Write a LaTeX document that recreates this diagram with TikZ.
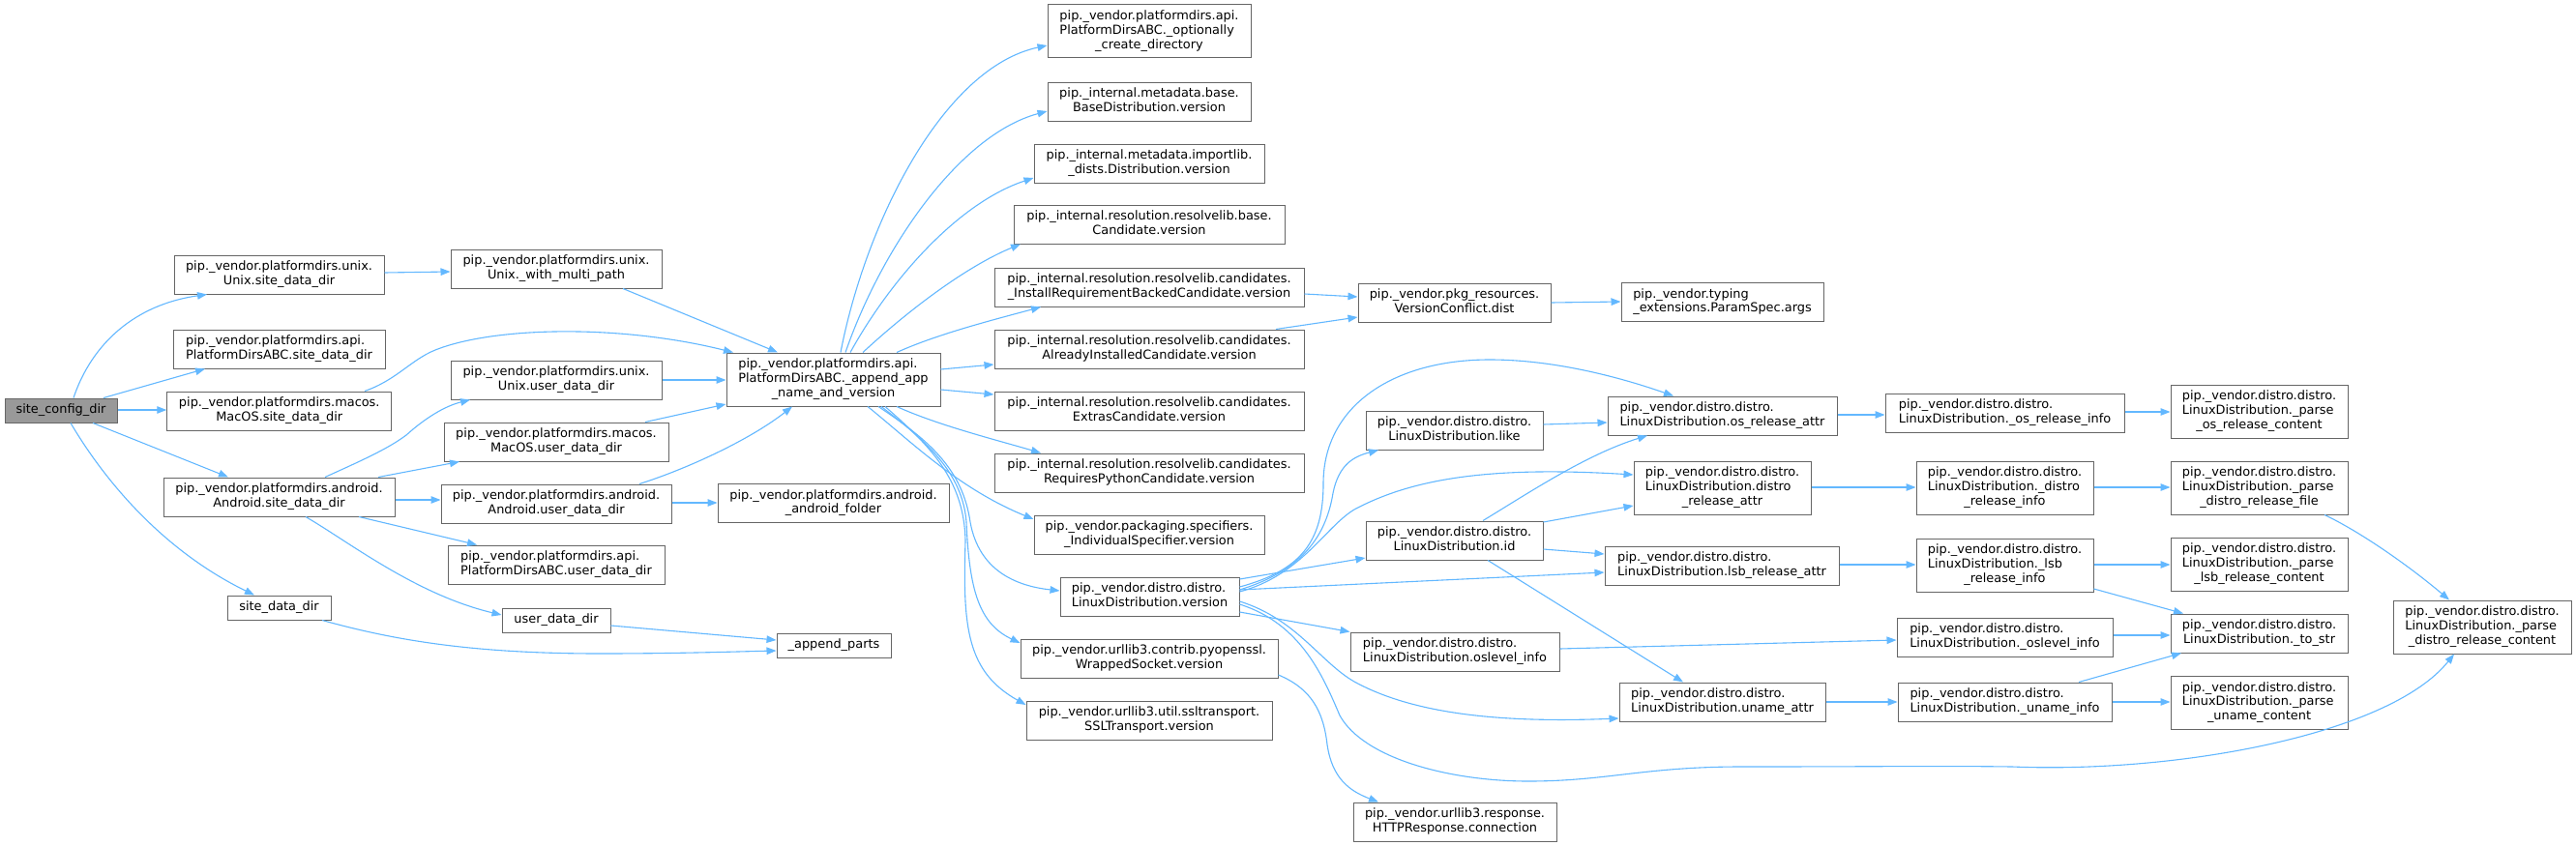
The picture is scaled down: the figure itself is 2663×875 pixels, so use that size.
\documentclass[tikz,border=0pt]{standalone}
\usepackage{fontspec}
\setmainfont{DejaVu Sans}
\usetikzlibrary{arrows.meta}
\definecolor{edgeblue}{HTML}{63B8FF}
\definecolor{boxline}{HTML}{666666}
\definecolor{rootfill}{HTML}{999999}
\newcommand{\LblTwo}[2]{\begin{tabular}{@{}l@{}}#1\\\multicolumn{1}{@{}c@{}}{#2}\end{tabular}}
\newcommand{\LblThree}[3]{\begin{tabular}{@{}l@{}}#1\\#2\\\multicolumn{1}{@{}c@{}}{#3}\end{tabular}}
\newcommand{\PVD}{pip.\_vendor.distro.distro.}
\newcommand{\PLD}{LinuxDistribution.}
\begin{document}
\begin{tikzpicture}[x=1pt,y=-1pt,
  bx/.style={draw=boxline, fill=white, line width=1pt, inner sep=0pt, rectangle, font=\fontsize{12.9}{14.7}\selectfont},
  rootbx/.style={bx, fill=rootfill},
  ed/.style={draw=edgeblue, line width=1.1pt, -{Triangle[length=10pt,width=7.5pt]}}]
\useasboundingbox (0,0) rectangle (2663,875);
\fill[white] (0,0) rectangle (2663,875);
% column 0
\node[rootbx, minimum width=116pt, minimum height=25pt] (n0) at (63,424.5) {site\_config\_dir};
% column 1
\node[bx, minimum width=217pt, minimum height=40pt] (n1) at (288.5,284) {\LblTwo{pip.\_vendor.platformdirs.unix.}{Unix.site\_data\_dir}};
\node[bx, minimum width=219pt, minimum height=40pt] (n2) at (288.5,361) {\LblTwo{pip.\_vendor.platformdirs.api.}{PlatformDirsABC.site\_data\_dir}};
\node[bx, minimum width=232pt, minimum height=40pt] (n3) at (288.75,425) {\LblTwo{pip.\_vendor.platformdirs.macos.}{MacOS.site\_data\_dir}};
\node[bx, minimum width=239pt, minimum height=40pt] (n4) at (288.5,514) {\LblTwo{pip.\_vendor.platformdirs.android.}{Android.site\_data\_dir}};
\node[bx, minimum width=107pt, minimum height=25pt] (n5) at (288.5,628.5) {site\_data\_dir};
% column 2
\node[bx, minimum width=218pt, minimum height=40pt] (n6) at (575,278) {\LblTwo{pip.\_vendor.platformdirs.unix.}{Unix.\_with\_multi\_path}};
\node[bx, minimum width=218pt, minimum height=40pt] (n7) at (575,393) {\LblTwo{pip.\_vendor.platformdirs.unix.}{Unix.user\_data\_dir}};
\node[bx, minimum width=232pt, minimum height=40pt] (n8) at (575,457) {\LblTwo{pip.\_vendor.platformdirs.macos.}{MacOS.user\_data\_dir}};
\node[bx, minimum width=238pt, minimum height=40pt] (n9) at (575,521) {\LblTwo{pip.\_vendor.platformdirs.android.}{Android.user\_data\_dir}};
\node[bx, minimum width=224pt, minimum height=40pt] (n10) at (575,584) {\LblTwo{pip.\_vendor.platformdirs.api.}{PlatformDirsABC.user\_data\_dir}};
\node[bx, minimum width=112pt, minimum height=25pt] (n11) at (575,641.5) {user\_data\_dir};
% column 3
\node[bx, minimum width=221pt, minimum height=55pt] (n12) at (861.5,392.5) {\LblThree{pip.\_vendor.platformdirs.api.}{PlatformDirsABC.\_append\_app}{\_name\_and\_version}};
\node[bx, minimum width=239pt, minimum height=40pt] (n13) at (861.5,520.5) {\LblTwo{pip.\_vendor.platformdirs.android.}{\_android\_folder}};
\node[bx, minimum width=118pt, minimum height=25pt] (n14) at (862,667.5) {\_append\_parts};
% column 4
\node[bx, minimum width=210pt, minimum height=55pt] (n15) at (1188,32.5) {\LblThree{pip.\_vendor.platformdirs.api.}{PlatformDirsABC.\_optionally}{\_create\_directory}};
\node[bx, minimum width=210pt, minimum height=40pt] (n16) at (1188,105) {\LblTwo{pip.\_internal.metadata.base.}{BaseDistribution.version}};
\node[bx, minimum width=238pt, minimum height=40pt] (n17) at (1188,169) {\LblTwo{pip.\_internal.metadata.importlib.}{\_dists.Distribution.version}};
\node[bx, minimum width=280pt, minimum height=40pt] (n18) at (1188,232) {\LblTwo{pip.\_internal.resolution.resolvelib.base.}{Candidate.version}};
\node[bx, minimum width=320pt, minimum height=40pt] (n19) at (1188,297) {\LblTwo{pip.\_internal.resolution.resolvelib.candidates.}{\_InstallRequirementBackedCandidate.version}};
\node[bx, minimum width=320pt, minimum height=40pt] (n20) at (1188,361) {\LblTwo{pip.\_internal.resolution.resolvelib.candidates.}{AlreadyInstalledCandidate.version}};
\node[bx, minimum width=320pt, minimum height=40pt] (n21) at (1188,425) {\LblTwo{pip.\_internal.resolution.resolvelib.candidates.}{ExtrasCandidate.version}};
\node[bx, minimum width=320pt, minimum height=40pt] (n22) at (1188,489) {\LblTwo{pip.\_internal.resolution.resolvelib.candidates.}{RequiresPythonCandidate.version}};
\node[bx, minimum width=238pt, minimum height=40pt] (n23) at (1188,553) {\LblTwo{pip.\_vendor.packaging.specifiers.}{\_IndividualSpecifier.version}};
\node[bx, minimum width=185pt, minimum height=40pt] (n24) at (1188.5,617) {\LblTwo{\PVD}{\PLD version}};
\node[bx, minimum width=266pt, minimum height=40pt] (n25) at (1188,681) {\LblTwo{pip.\_vendor.urllib3.contrib.pyopenssl.}{WrappedSocket.version}};
\node[bx, minimum width=254pt, minimum height=40pt] (n26) at (1188,745) {\LblTwo{pip.\_vendor.urllib3.util.ssltransport.}{SSLTransport.version}};
% column 5
\node[bx, minimum width=199pt, minimum height=40pt] (n27) at (1503.5,313) {\LblTwo{pip.\_vendor.pkg\_resources.}{VersionConflict.dist}};
\node[bx, minimum width=183pt, minimum height=40pt] (n28) at (1503.5,445) {\LblTwo{\PVD}{\PLD like}};
\node[bx, minimum width=183pt, minimum height=40pt] (n29) at (1503.5,559) {\LblTwo{\PVD}{\PLD id}};
\node[bx, minimum width=216pt, minimum height=40pt] (n30) at (1504,674) {\LblTwo{\PVD}{\PLD oslevel\_info}};
\node[bx, minimum width=210pt, minimum height=40pt] (n31) at (1504,850) {\LblTwo{pip.\_vendor.urllib3.response.}{HTTPResponse.connection}};
% column 6
\node[bx, minimum width=209pt, minimum height=40pt] (n32) at (1780.5,312.5) {\LblTwo{pip.\_vendor.typing}{\_extensions.ParamSpec.args}};
\node[bx, minimum width=237pt, minimum height=40pt] (n33) at (1780.5,430) {\LblTwo{\PVD}{\PLD os\_release\_attr}};
\node[bx, minimum width=183pt, minimum height=55pt] (n34) at (1780.5,504.5) {\LblThree{\PVD}{\PLD distro}{\_release\_attr}};
\node[bx, minimum width=242pt, minimum height=40pt] (n35) at (1780,585) {\LblTwo{\PVD}{\PLD lsb\_release\_attr}};
\node[bx, minimum width=213pt, minimum height=40pt] (n36) at (1780.5,726) {\LblTwo{\PVD}{\PLD uname\_attr}};
% column 7
\node[bx, minimum width=247pt, minimum height=40pt] (n37) at (2072.5,427) {\LblTwo{\PVD}{\PLD\_os\_release\_info}};
\node[bx, minimum width=183pt, minimum height=55pt] (n38) at (2072.5,504.5) {\LblThree{\PVD}{\PLD\_distro}{\_release\_info}};
\node[bx, minimum width=183pt, minimum height=55pt] (n39) at (2072.5,584.5) {\LblThree{\PVD}{\PLD\_lsb}{\_release\_info}};
\node[bx, minimum width=223pt, minimum height=40pt] (n40) at (2072.5,659) {\LblTwo{\PVD}{\PLD\_oslevel\_info}};
\node[bx, minimum width=221pt, minimum height=40pt] (n41) at (2072.5,726) {\LblTwo{\PVD}{\PLD\_uname\_info}};
% column 8
\node[bx, minimum width=183pt, minimum height=55pt] (n42) at (2335.5,425.5) {\LblThree{\PVD}{\PLD\_parse}{\_os\_release\_content}};
\node[bx, minimum width=183pt, minimum height=55pt] (n43) at (2335.5,504.5) {\LblThree{\PVD}{\PLD\_parse}{\_distro\_release\_file}};
\node[bx, minimum width=183pt, minimum height=55pt] (n44) at (2335.5,583.5) {\LblThree{\PVD}{\PLD\_parse}{\_lsb\_release\_content}};
\node[bx, minimum width=183pt, minimum height=40pt] (n45) at (2335.5,655) {\LblTwo{\PVD}{\PLD\_to\_str}};
\node[bx, minimum width=183pt, minimum height=55pt] (n46) at (2335.5,727) {\LblThree{\PVD}{\PLD\_parse}{\_uname\_content}};
% column 9
\node[bx, minimum width=184pt, minimum height=55pt] (n47) at (2566,648.5) {\LblThree{\PVD}{\PLD\_parse}{\_distro\_release\_content}};

% edges
\draw[ed] (76,0 |- n0.north) .. controls (95,355) and (140,315) .. (214,0 |- n1.south);
\draw[ed] (107,0 |- n0.north) -- (212,0 |- n2.south);
\draw[ed] (n0.east |- 0,424) -- (n3.west |- 0,424);
\draw[ed] (96,0 |- n0.south) -- (236,0 |- n4.north);
\draw[ed] (73,0 |- n0.south) .. controls (110,500) and (170,570) .. (263,0 |- n5.north);
\draw[ed] (n1.east |- 0,282) -- (n6.west |- 0,281);
\draw[ed] (644,0 |- n6.south) -- (804,0 |- n12.north);
\draw[ed] (377,0 |- n3.north) .. controls (410,393) and (425,372) .. (450,362) .. controls (510,338) and (640,335) .. (758,0 |- n12.north);
\draw[ed] (336,0 |- n4.north) .. controls (370,478) and (400,465) .. (420,450) .. controls (440,432) and (460,420) .. (486,0 |- n7.south);
\draw[ed] (391,0 |- n4.north) -- (475,0 |- n8.south);
\draw[ed] (n4.east |- 0,517) -- (n9.west |- 0,517);
\draw[ed] (371,0 |- n4.south) -- (493,0 |- n10.north);
\draw[ed] (316,0 |- n4.south) .. controls (360,560) and (430,615) .. (n11.west |- 0,636);
\draw[ed] (n7.east |- 0,393) -- (n12.west |- 0,393);
\draw[ed] (667,0 |- n8.north) -- (n12.west |- 0,418);
\draw[ed] (661,0 |- n9.north) .. controls (710,485) and (775,455) .. (819,0 |- n12.south);
\draw[ed] (n9.east |- 0,520) -- (n13.west |- 0,520);
\draw[ed] (n11.east |- 0,647) -- (n14.west |- 0,662);
\draw[ed] (333,0 |- n5.south) .. controls (400,660) and (480,676) .. (620,676) .. controls (700,676) and (760,674) .. (n14.west |- 0,673);
% from append_app
\draw[ed] (869,0 |- n12.north) .. controls (895,230) and (975,70) .. (n15.west |- 0,47);
\draw[ed] (874,0 |- n12.north) .. controls (910,260) and (990,140) .. (n16.west |- 0,115);
\draw[ed] (879,0 |- n12.north) .. controls (920,290) and (990,210) .. (n17.west |- 0,184);
\draw[ed] (892,0 |- n12.north) .. controls (940,320) and (1000,275) .. (1055,0 |- n18.south);
\draw[ed] (927,0 |- n12.north) .. controls (970,345) and (1030,330) .. (1076,0 |- n19.south);
\draw[ed] (n12.east |- 0,382) -- (n20.west |- 0,377);
\draw[ed] (n12.east |- 0,403) -- (n21.west |- 0,408);
\draw[ed] (927,0 |- n12.south) .. controls (970,440) and (1030,455) .. (1076,0 |- n22.north);
\draw[ed] (897,0 |- n12.south) .. controls (940,455) and (990,505) .. (n23.west |- 0,537);
\draw[ed] (908,0 |- n12.south) .. controls (960,455) and (995,485) .. (1003,540) .. controls (1012,590) and (1050,606) .. (n24.west |- 0,611);
\draw[ed] (911,0 |- n12.south) .. controls (960,458) and (995,490) .. (999,540) .. controls (1002,610) and (1012,645) .. (n25.west |- 0,665);
\draw[ed] (915,0 |- n12.south) .. controls (960,460) and (997,495) .. (998,560) .. controls (995,650) and (1000,695) .. (n26.west |- 0,729);
% column 4 to 5
\draw[ed] (n19.east |- 0,304) -- (n27.west |- 0,307);
\draw[ed] (1319,0 |- n20.north) -- (n27.west |- 0,328);
\draw[ed] (n27.east |- 0,313) -- (n32.west |- 0,312);
% from LinuxDistribution.version
\draw[ed] (n24.east |- 0,610) .. controls (1340,592) and (1370,560) .. (1378,510) .. controls (1384,480) and (1400,472) .. (1425,0 |- n28.south);
\draw[ed] (n24.east |- 0,607) .. controls (1345,590) and (1368,560) .. (1368,500) .. controls (1368,420) and (1440,372) .. (1540,372) .. controls (1610,372) and (1680,392) .. (1730,0 |- n33.north);
\draw[ed] (n24.east |- 0,612) .. controls (1345,595) and (1370,545) .. (1400,527) .. controls (1460,495) and (1540,482) .. (n34.west |- 0,491);
\draw[ed] (n24.east |- 0,599) -- (n29.west |- 0,577);
\draw[ed] (n24.east |- 0,610) -- (n35.west |- 0,592);
\draw[ed] (n24.east |- 0,633) -- (n30.north west);
\draw[ed] (n24.east |- 0,622) .. controls (1340,640) and (1365,685) .. (1400,705) .. controls (1460,738) and (1550,748) .. (n36.west |- 0,743);
\draw[ed] (n24.east |- 0,625) .. controls (1345,645) and (1368,700) .. (1385,740) .. controls (1410,785) and (1500,808) .. (1580,808) .. controls (1660,808) and (1700,793) .. (1800,793) .. controls (1950,793) and (2000,792) .. (2080,793) .. controls (2250,800) and (2470,760) .. (2537,0 |- n47.south);
% like, id
\draw[ed] (n28.east |- 0,439) -- (n33.west |- 0,437);
\draw[ed] (1533,0 |- n29.north) .. controls (1580,510) and (1640,470) .. (1703,0 |- n33.south);
\draw[ed] (n29.east |- 0,540) -- (n34.west |- 0,523);
\draw[ed] (n29.east |- 0,568) -- (n35.west |- 0,573);
\draw[ed] (1538,0 |- n29.south) -- (1740,0 |- n36.north);
% column 6 to 7
\draw[ed] (n33.east |- 0,429) -- (n37.west |- 0,429);
\draw[ed] (n34.east |- 0,504) -- (n38.west |- 0,504);
\draw[ed] (n35.east |- 0,584) -- (n39.west |- 0,584);
\draw[ed] (n36.east |- 0,726) -- (n41.west |- 0,726);
\draw[ed] (n30.east |- 0,671) -- (n40.west |- 0,662);
% column 7 to 8
\draw[ed] (n37.east |- 0,426) -- (n42.west |- 0,426);
\draw[ed] (n38.east |- 0,504) -- (n43.west |- 0,504);
\draw[ed] (n39.east |- 0,584) -- (n44.west |- 0,584);
\draw[ed] (n39.east |- 0,609) -- (2257,0 |- n45.north);
\draw[ed] (n40.east |- 0,657) -- (n45.west |- 0,657);
\draw[ed] (2149,0 |- n41.north) -- (2255,0 |- n45.south);
\draw[ed] (n41.east |- 0,726) -- (n46.west |- 0,726);
\draw[ed] (2403,0 |- n43.south) .. controls (2440,550) and (2490,585) .. (2532,0 |- n47.north);
% WrappedSocket
\draw[ed] (n25.east |- 0,698) .. controls (1355,712) and (1368,735) .. (1372,770) .. controls (1377,805) and (1395,818) .. (1425,0 |- n31.north);
\end{tikzpicture}
\end{document}
